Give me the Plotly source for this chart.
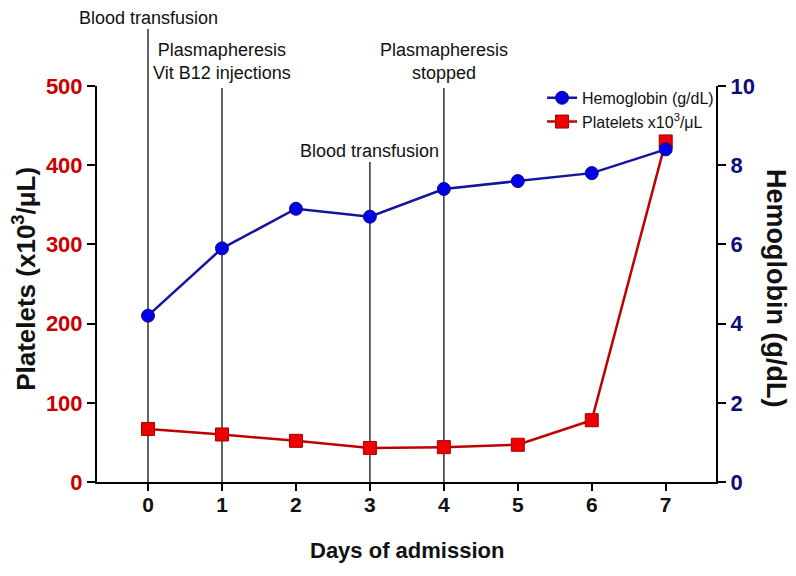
import plotly.graph_objects as go

days = [0, 1, 2, 3, 4, 5, 6, 7]
hemoglobin = [4.2, 5.9, 6.9, 6.7, 7.4, 7.6, 7.8, 8.4]
platelets = [67, 60, 52, 43, 44, 47, 78, 430]
x_ticks = [0, 1, 2, 3, 4, 5, 6, 7]
plt_ticks = [0, 100, 200, 300, 400, 500]
hb_ticks = [0, 2, 4, 6, 8, 10]
event_days = [0, 1, 3, 4]
event_labels = ["Blood transfusion", "Plasmapheresis<br>Vit B12 injections",
                "Blood transfusion", "Plasmapheresis<br>stopped"]

FONT = "Liberation Sans, Arial, sans-serif"
RED_T = "#c80000"
NAVY_T = "#0d0d7a"
TXT = "#111111"

fig = go.Figure()
fig.add_trace(go.Scatter(
    x=days, y=hemoglobin, yaxis="y2", name="Hemoglobin (g/dL)",
    mode="lines+markers",
    line=dict(color="#14149e", width=2.5),
    marker=dict(symbol="circle", size=13, color="#0000e6", line=dict(color="#0a0a90", width=1)),
    cliponaxis=False,
))
fig.add_trace(go.Scatter(
    x=days, y=platelets, yaxis="y", name="Platelets x10<sup>3</sup>/μL",
    mode="lines+markers",
    line=dict(color="#c00000", width=2.5),
    marker=dict(symbol="square", size=13, color="#ee0000", line=dict(color="#a00000", width=1)),
    cliponaxis=False,
))

# event lines (top positions in paper units) and labels
line_tops = [1.144, 0.995, 0.808, 0.995]
text_centers = [1.172, 1.062, 0.836, 1.062]
shapes = []
annotations = []
for d, lab, top, tc in zip(event_days, event_labels, line_tops, text_centers):
    shapes.append(dict(type="line", xref="x", yref="paper", x0=d, x1=d, y0=0, y1=top,
                       line=dict(color="#303030", width=1.5), layer="below"))
    annotations.append(dict(x=d, xref="x", y=tc, yref="paper", text=lab, showarrow=False,
                            xanchor="center", yanchor="middle",
                            font=dict(family=FONT, size=18, color=TXT)))

# axis titles
annotations.append(dict(x=0.5, xref="paper", y=-0.174, yref="paper",
                        text="<b>Days of admission</b>", showarrow=False,
                        xanchor="center", yanchor="middle",
                        font=dict(family=FONT, size=22, color=TXT)))
annotations.append(dict(x=-0.1163, xref="paper", y=0.513, yref="paper",
                        text="<b>Platelets (x10<sup>3</sup>/μL)</b>", textangle=-90,
                        showarrow=False, xanchor="center", yanchor="middle",
                        font=dict(family=FONT, size=26, color=TXT)))
annotations.append(dict(x=1.097, xref="paper", y=0.49, yref="paper",
                        text="<b>Hemoglobin (g/dL)</b>", textangle=90,
                        showarrow=False, xanchor="center", yanchor="middle",
                        font=dict(family=FONT, size=27, color=TXT)))

fig.update_layout(
    width=796, height=576,
    margin=dict(l=89, r=88, t=78, b=102),
    paper_bgcolor="white", plot_bgcolor="white",
    showlegend=True,
    legend=dict(x=0.719, y=1.013, xanchor="left", yanchor="top", bgcolor="rgba(0,0,0,0)",
                font=dict(family=FONT, size=16, color=TXT),
                itemwidth=30, tracegroupgap=0),
    shapes=shapes,
    annotations=annotations,
    xaxis=dict(range=[-0.69, 7.68], tickvals=x_ticks, showgrid=False, zeroline=False,
               showline=True, linecolor="black", linewidth=2, automargin=False,
               ticks="outside", ticklen=7, tickwidth=2, tickcolor="black",
               ticklabelstandoff=-4,
               tickfont=dict(family=FONT, size=21, color=TXT, weight="bold")),
    yaxis=dict(range=[0, 500], tickvals=plt_ticks, showgrid=False, zeroline=False,
               showline=True, linecolor="black", linewidth=2, automargin=False,
               ticks="outside", ticklen=8, tickwidth=2, tickcolor="black",
               tickfont=dict(family=FONT, size=22, color=RED_T, weight="bold")),
    yaxis2=dict(range=[0, 10], tickvals=hb_ticks, overlaying="y", side="right",
                showgrid=False, zeroline=False, automargin=False,
                showline=True, linecolor="black", linewidth=2,
                ticks="outside", ticklen=8, tickwidth=2, tickcolor="black",
                tickfont=dict(family=FONT, size=22, color=NAVY_T, weight="bold")),
)

fig.write_html("out.html")
